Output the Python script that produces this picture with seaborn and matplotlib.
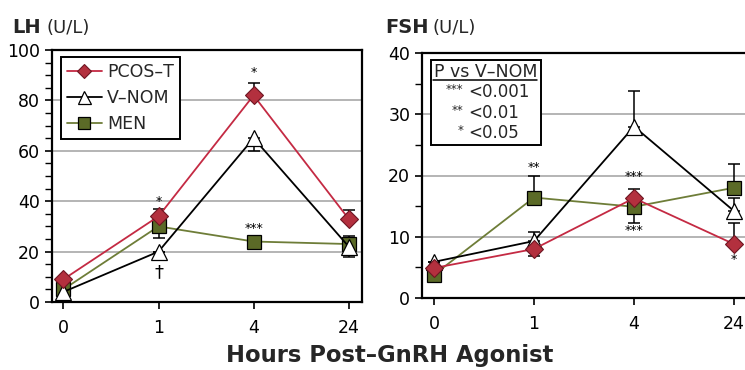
import numpy as np
import pandas as pd
import matplotlib
matplotlib.use("Agg")
import matplotlib.pyplot as plt
import seaborn as sns
from matplotlib.patches import Rectangle
from matplotlib.lines import Line2D

# ---------------- data ----------------
hours = ["0", "1", "4", "24"]
groups = ["PCOS–T", "V–NOM", "MEN"]

lh_pcos = [9, 34, 82, 33]
lh_vnom = [4, 20, 65, 22]
lh_men = [5, 30, 24, 23]
lh_pcos_lo = [0, 0, 0, 0]
lh_pcos_hi = [0, 3, 5, 3.5]
lh_vnom_lo = [0, 0, 5, 4]
lh_vnom_hi = [0, 0, 0, 0]
lh_men_lo = [0, 4.5, 0, 0]
lh_men_hi = [0, 0, 0, 3]

fsh_pcos = [4.9, 8.0, 16.3, 8.8]
fsh_vnom = [5.9, 9.3, 28.0, 14.2]
fsh_men = [3.8, 16.4, 14.9, 18.0]
fsh_pcos_lo = [0, 1.1, 0, 0]
fsh_pcos_hi = [0, 0, 1.5, 3.5]
fsh_vnom_lo = [0, 0, 0, 0]
fsh_vnom_hi = [0, 1.4, 5.8, 2.1]
fsh_men_lo = [0, 0, 2.6, 0]
fsh_men_hi = [0, 3.5, 0, 3.8]

lh_marks = [("*", 1, 40), ("*", 2, 91), ("***", 2, 29)]
lh_dagger = ("†", 1, 12)
fsh_marks = [("**", 1, 21.3), ("***", 2, 19.8), ("***", 2, 11.0), ("*", 3, 6.3)]

# ---------------- style ----------------
sns.set_theme(style="ticks")
plt.rcParams["font.family"] = ["DejaVu Sans"]

RED_LINE = "#c42a43"
RED_FACE = "#b3303e"
RED_EDGE = "#6e1622"
OLIVE_LINE = "#6e7d38"
OLIVE_FACE = "#5b6a27"

styles = {
    "PCOS–T": dict(color=RED_LINE, marker="D", markersize=9, markerfacecolor=RED_FACE,
                   markeredgecolor=RED_EDGE, markeredgewidth=0.8, zorder=5),
    "V–NOM": dict(color="black", marker="^", markersize=12, markerfacecolor="white",
                  markeredgecolor="black", markeredgewidth=0.9, zorder=4),
    "MEN": dict(color=OLIVE_LINE, marker="s", markersize=10.5, markerfacecolor=OLIVE_FACE,
                markeredgecolor="black", markeredgewidth=0.9, zorder=3),
}

fig = plt.figure(figsize=(7.45, 3.70), dpi=100)
axL = fig.add_axes([52 / 745, 68 / 370, 310 / 745, 252 / 370])
axR = fig.add_axes([422 / 745, 72 / 370, 326 / 745, 245 / 370])

def draw(ax, series, ymax, major, minor):
    x = np.arange(len(hours))
    for name in ["MEN", "V–NOM", "PCOS–T"]:
        vals, lo, hi = series[name]
        ax.errorbar(x, vals, yerr=[lo, hi], fmt="none", ecolor="black",
                    elinewidth=1.1, capsize=4, capthick=1.1, zorder=2.5)
        df = pd.DataFrame({"x": x, "y": vals})
        sns.lineplot(data=df, x="x", y="y", ax=ax, linewidth=1.3, legend=False,
                     **styles[name])
    ax.set_xlim(-0.12, 3.14)
    ax.set_ylim(0, ymax)
    ax.set_xticks(x)
    ax.set_xticklabels(hours)
    ax.set_yticks(np.arange(0, ymax + 0.1, major))
    ax.set_yticks(np.arange(0, ymax + 0.1, minor), minor=True)
    ax.set_xlabel("")
    ax.set_ylabel("")
    ax.yaxis.grid(True, which="major", color="#b4b4b4", linewidth=1.4)
    ax.set_axisbelow(True)
    ax.tick_params(axis="both", which="major", labelsize=12.5, length=5, width=1.2,
                   color="black", labelcolor="black", pad=3.5)
    ax.tick_params(axis="y", which="minor", length=5, width=1.0, color="black")
    ax.tick_params(axis="x", pad=7)
    for s in ax.spines.values():
        s.set_color("black")
        s.set_linewidth(1.6)

draw(axL, {"PCOS–T": (lh_pcos, lh_pcos_lo, lh_pcos_hi),
           "V–NOM": (lh_vnom, lh_vnom_lo, lh_vnom_hi),
           "MEN": (lh_men, lh_men_lo, lh_men_hi)}, 100, 20, 5)
draw(axR, {"PCOS–T": (fsh_pcos, fsh_pcos_lo, fsh_pcos_hi),
           "V–NOM": (fsh_vnom, fsh_vnom_lo, fsh_vnom_hi),
           "MEN": (fsh_men, fsh_men_lo, fsh_men_hi)}, 40, 10, 5)
axR.spines["right"].set_visible(False)

# significance marks
for t, xi, yi in lh_marks:
    axL.text(xi, yi, t, ha="center", va="center", fontsize=9, color="black")
axL.text(lh_dagger[1], lh_dagger[2], lh_dagger[0], ha="center", va="center",
         fontsize=13, color="black")
for t, xi, yi in fsh_marks:
    axR.text(xi, yi, t, ha="center", va="center", fontsize=9, color="black")

# left legend
handles = [Line2D([], [], linewidth=1.3, **{k: v for k, v in styles[g].items() if k != "zorder"})
           for g in groups]
for h in handles:
    h.set_markersize(h.get_markersize() * 0.78)
leg = axL.legend(handles, groups, loc="upper left", bbox_to_anchor=(0.029, 0.972),
                 borderaxespad=0, fontsize=12.5, frameon=True, fancybox=False,
                 edgecolor="black", framealpha=1, handlelength=2.0, handletextpad=0.3,
                 labelspacing=0.45, borderpad=0.35)
leg.get_frame().set_linewidth(1.4)

# right p-value box
axR.add_patch(Rectangle((0.028, 0.624), 0.337, 0.347, transform=axR.transAxes,
                        facecolor="white", edgecolor="black", linewidth=1.4, zorder=6))
axR.text(0.196, 0.922, "P vs V–NOM", transform=axR.transAxes, ha="center", va="center",
         fontsize=12.5, zorder=7)
axR.plot([0.035, 0.353], [0.89, 0.89], transform=axR.transAxes, color="black",
         linewidth=1.1, zorder=7)
for stars, txt, yy in [("***", "<0.001", 0.841), ("**", "<0.01", 0.755), ("*", "<0.05", 0.673)]:
    axR.text(0.126, yy + 0.01, stars, transform=axR.transAxes, ha="right", va="center",
             fontsize=8.5, zorder=7)
    axR.text(0.141, yy, txt, transform=axR.transAxes, ha="left", va="center",
             fontsize=12, zorder=7)

# titles
fig.text(12 / 745, 1 - 33 / 370, "LH", fontsize=14, fontweight="bold", va="baseline")
fig.text(47 / 745, 1 - 33 / 370, "(U/L)", fontsize=13, va="baseline")
fig.text(385 / 745, 1 - 33 / 370, "FSH", fontsize=14, fontweight="bold", va="baseline")
fig.text(433 / 745, 1 - 33 / 370, "(U/L)", fontsize=13, va="baseline")
fig.text(390 / 745, 1 - 362 / 370, "Hours Post–GnRH Agonist", fontsize=16.3,
         fontweight="bold", ha="center", va="baseline")

fig.savefig("out.png", dpi=100)
